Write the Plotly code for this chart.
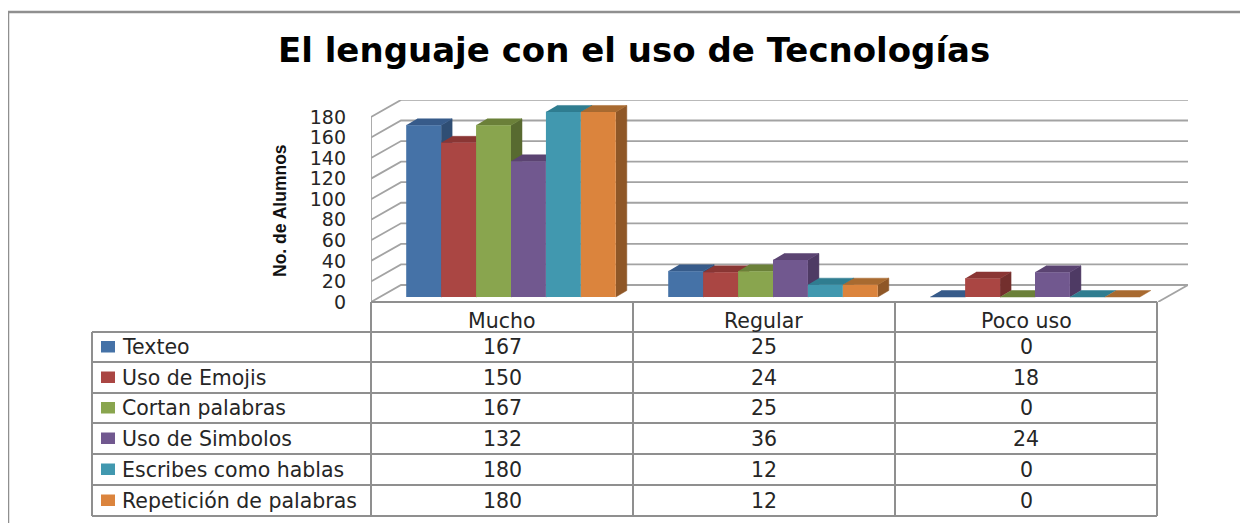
import plotly.graph_objects as go

categories = ["Mucho", "Regular", "Poco uso"]
series_names = ["Texteo", "Uso de Emojis", "Cortan palabras", "Uso de Simbolos",
                "Escribes como hablas", "Repetición de palabras"]
texteo = [167, 25, 0]
emojis = [150, 24, 18]
cortan = [167, 25, 0]
simbolos = [132, 36, 24]
escribes = [180, 12, 0]
repeticion = [180, 12, 0]
series_values = [texteo, emojis, cortan, simbolos, escribes, repeticion]
y_ticks = [0, 20, 40, 60, 80, 100, 120, 140, 160, 180]

front_colors = ["#4572A7", "#AA4643", "#89A54E", "#71588F", "#4198AF", "#DB843D"]
top_colors = ["#375B8A", "#8A3634", "#6B8039", "#5B4472", "#2F7D90", "#A86A30"]
side_colors = ["#2F4E74", "#732F2D", "#586A30", "#4E3A64", "#2A6C7E", "#8F5727"]
GRID = "#a3a3a3"
TABLE_LINE = "#8f8f8f"

PAD = 8  # browser body margin in front of the figure
W, H = 1240, 515


def fx(px):
    return (px - PAD) / W


def fy(py):
    return 1 - (py - PAD) / H


# pixel frame of the chart, front-bottom-left corner is (LEFT, FLOOR)
LEFT, RIGHT, FLOOR, CEIL = 371, 1188, 302, 100
CAT_PX, VAL_PX = 262, 1.028
x_range = [-0.5, -0.5 + (RIGHT - LEFT) / CAT_PX]
y_range = [0, (FLOOR - CEIL) / VAL_PX]
wall_dx, wall_dy = 30 / CAT_PX, 17 / VAL_PX
bar_x0, bar_y0 = 9 / CAT_PX, 5 / VAL_PX
bar_dx, bar_dy = 11 / CAT_PX, 6.5 / VAL_PX
bar_w = 0.8 / 6

fig = go.Figure()


def wall_line(xs, ys, width=1.8):
    fig.add_trace(go.Scatter(x=xs, y=ys, mode="lines", hoverinfo="skip",
                             line=dict(color=GRID, width=width), cliponaxis=False))


# back wall and left wall gridlines
for t in y_ticks:
    wall_line([x_range[0], x_range[0] + wall_dx, x_range[1]],
              [t, t + wall_dy, t + wall_dy])
wall_line([x_range[0], x_range[0]], [0, 180])
x_floor_end = x_range[1] - wall_dx
wall_line([x_floor_end, x_range[1]], [0, wall_dy])

# depth faces, later series painted over earlier ones
for k, values in enumerate(series_values):
    for i, v in enumerate(values):
        x0 = i + bar_x0 + (k - 3) * bar_w
        x1 = x0 + bar_w
        t = v + bar_y0
        if v > 0:
            fig.add_trace(go.Scatter(
                x=[x1, x1 + bar_dx, x1 + bar_dx, x1], y=[bar_y0, bar_y0 + bar_dy, t + bar_dy, t],
                fill="toself", fillcolor=side_colors[k], mode="lines",
                line=dict(color=side_colors[k], width=0.5), hoverinfo="skip"))
        fig.add_trace(go.Scatter(
            x=[x0, x1, x1 + bar_dx, x0 + bar_dx], y=[t, t, t + bar_dy, t + bar_dy],
            fill="toself", fillcolor=top_colors[k], mode="lines",
            line=dict(color=top_colors[k], width=0.5), hoverinfo="skip"))

# front faces on the overlay axes so they sit above every depth face
for k, values in enumerate(series_values):
    fig.add_trace(go.Bar(
        x=[i + bar_x0 for i in range(len(categories))], y=values, base=bar_y0,
        name=series_names[k], marker=dict(color=front_colors[k], line=dict(width=0)),
        xaxis="x2", yaxis="y2",
    ))

# data table
shapes = []


def table_line(x0, y0, x1, y1, width=2):
    shapes.append(dict(type="line", xref="paper", yref="paper",
                       x0=fx(x0), y0=fy(y0), x1=fx(x1), y1=fy(y1),
                       line=dict(color=TABLE_LINE, width=width)))


col_edges = [371, 633, 895, 1157]
row_edges = [332, 362, 393, 423, 454, 485, 516]
LABEL_LEFT = 92
table_line(col_edges[0], FLOOR, col_edges[-1], FLOOR)
for y in row_edges:
    table_line(LABEL_LEFT, y, col_edges[-1], y)
for x in col_edges:
    table_line(x, FLOOR, x, row_edges[-1])
table_line(LABEL_LEFT, row_edges[0], LABEL_LEFT, row_edges[-1])
# outer frame
table_line(8, 12, 1248, 12, 2.5)
table_line(8, 12, 8, 523, 2.5)

annotations = []
TABLE_FONT = dict(family="DejaVu Sans", size=20.5, color="#262626")


def put_text(px, py, text, anchor="center", font=TABLE_FONT, angle=0):
    annotations.append(dict(x=fx(px), y=fy(py), xref="paper", yref="paper", text=text,
                            showarrow=False, xanchor=anchor, yanchor="middle",
                            font=font, textangle=angle, borderpad=0))


for c, name in enumerate(categories):
    put_text((col_edges[c] + col_edges[c + 1]) / 2, 321, name)
for k, name in enumerate(series_names):
    mid = (row_edges[k] + row_edges[k + 1]) / 2
    shapes.append(dict(type="rect", xref="paper", yref="paper",
                       x0=fx(101), x1=fx(115), y0=fy(mid - 6), y1=fy(mid + 5.5),
                       fillcolor=front_colors[k], line=dict(width=0)))
    put_text(120.5, mid, name, anchor="left")
    for c in range(len(categories)):
        put_text((col_edges[c] + col_edges[c + 1]) / 2, mid, str(series_values[k][c]))

put_text(634, 50, "<b>El lenguaje con el uso de Tecnologías</b>",
         font=dict(family="DejaVu Sans", size=34, color="#000000"))
put_text(280, 211, "<b>No. de Alumnos</b>", angle=-90,
         font=dict(family="Liberation Sans", size=17.5, color="#111111"))

x_domain = [fx(LEFT), fx(RIGHT)]
y_domain = [fy(FLOOR), fy(CEIL)]
fig.update_layout(
    width=W, height=H, autosize=False, showlegend=False,
    margin=dict(l=0, r=0, t=0, b=0, autoexpand=False), paper_bgcolor="white", plot_bgcolor="white",
    barmode="group", bargap=0.2, bargroupgap=0,
    xaxis=dict(domain=x_domain, range=x_range, visible=False, fixedrange=True),
    yaxis=dict(domain=y_domain, range=y_range, tickvals=y_ticks, showgrid=False, zeroline=False,
               showline=False, ticks="", ticklabelstandoff=24, fixedrange=True,
               tickfont=dict(family="DejaVu Sans", size=19, color="#262626")),
    xaxis2=dict(domain=x_domain, range=x_range, visible=False, overlaying="x", fixedrange=True),
    yaxis2=dict(domain=y_domain, range=y_range, visible=False, overlaying="y", fixedrange=True),
    shapes=shapes, annotations=annotations,
)

fig.write_html("out.html")
